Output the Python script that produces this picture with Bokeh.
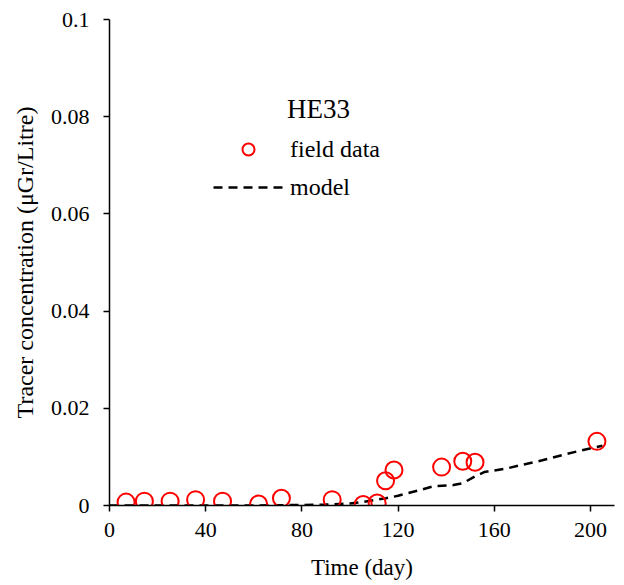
from bokeh.plotting import figure
from bokeh.models import Range1d, FixedTicker, Legend, LegendItem, Label
from bokeh.embed import file_html
from bokeh.resources import INLINE

# Observed tracer concentrations at well HE33
field_days = [6.9, 14.5, 25.2, 35.8, 47.0, 62.0, 71.5, 92.6, 105.5, 111.3,
              114.8, 118.3, 138.1, 146.9, 152.0, 202.7]
field_conc = [0.0007, 0.0009, 0.0009, 0.0012, 0.0009, 0.0003, 0.0015, 0.0012,
              0.0002, 0.0005, 0.0051, 0.0073, 0.0079, 0.0091, 0.0089, 0.0132]

# Simulated breakthrough curve
model_days = [0, 20, 40, 60, 78, 90, 100, 105, 110, 115, 120, 130, 135, 143,
              147, 152, 156, 165, 170, 180, 190, 196, 205]
model_conc = [0.0, 0.0, 0.0, 0.0, 0.0001, 0.0002, 0.0004, 0.0007, 0.0011,
              0.0015, 0.002, 0.0033, 0.004, 0.0042, 0.0046, 0.006, 0.0069,
              0.0076, 0.0082, 0.0093, 0.0106, 0.0113, 0.0123]

x_ticks = [0, 40, 80, 120, 160, 200]
y_ticks = [0, 0.02, 0.04, 0.06, 0.08, 0.1]
y_tick_labels = ["0", "0.02", "0.04", "0.06", "0.08", "0.1"]

FONT = "Liberation Serif"

p = figure(width=624, height=585, output_backend="svg", toolbar_location=None,
           x_range=Range1d(0, 210), y_range=Range1d(0, 0.1),
           min_border_left=109, min_border_right=10, min_border_top=19,
           min_border_bottom=80)
p.outline_line_color = None
p.grid.visible = False

model_r = p.line(model_days, model_conc, line_color="black", line_width=2.5,
                 line_dash="9 6")
field_r = p.scatter(field_days, field_conc, size=17, fill_color=None,
                    line_color="red", line_width=2)

for ax in (p.xaxis[0], p.yaxis[0]):
    ax.axis_line_color = "black"
    ax.axis_line_width = 1.5
    ax.major_tick_line_color = "black"
    ax.major_tick_line_width = 1.5
    ax.major_tick_in = 0
    ax.major_tick_out = 6
    ax.minor_tick_line_color = None
    ax.major_label_text_font = FONT
    ax.major_label_text_font_size = "22px"
    ax.major_label_text_color = "black"
    ax.axis_label_text_font = FONT
    ax.axis_label_text_font_style = "normal"
    ax.axis_label_text_color = "black"

p.xaxis.ticker = FixedTicker(ticks=x_ticks)
p.yaxis.ticker = FixedTicker(ticks=y_ticks)
p.yaxis.major_label_overrides = {t: s for t, s in zip(y_ticks, y_tick_labels)}
p.xaxis.axis_label = "Time (day)"
p.yaxis.axis_label = "Tracer concentration (\u03bcGr/Litre)"
p.xaxis.axis_label_text_font_size = "23px"
p.yaxis.axis_label_text_font_size = "24px"
p.xaxis.major_label_standoff = 11
p.yaxis.major_label_standoff = 14
p.xaxis.axis_label_standoff = 15
p.yaxis.axis_label_standoff = 10

legend = Legend(items=[LegendItem(label="field data", renderers=[field_r]),
                       LegendItem(label="model", renderers=[model_r])],
                location=(104, 303), orientation="vertical",
                glyph_width=70, glyph_height=30, label_height=30, spacing=8,
                label_standoff=7, padding=0, margin=0,
                border_line_color=None, background_fill_alpha=0,
                label_text_font=FONT, label_text_font_size="24px",
                label_text_color="black")
p.add_layout(legend)

p.add_layout(Label(x=209, y=397, x_units="screen", y_units="screen",
                   text="HE33", text_font=FONT, text_font_size="27px",
                   text_align="center", text_baseline="middle",
                   text_color="black"))

open("out.html", "w").write(file_html(p, INLINE))
